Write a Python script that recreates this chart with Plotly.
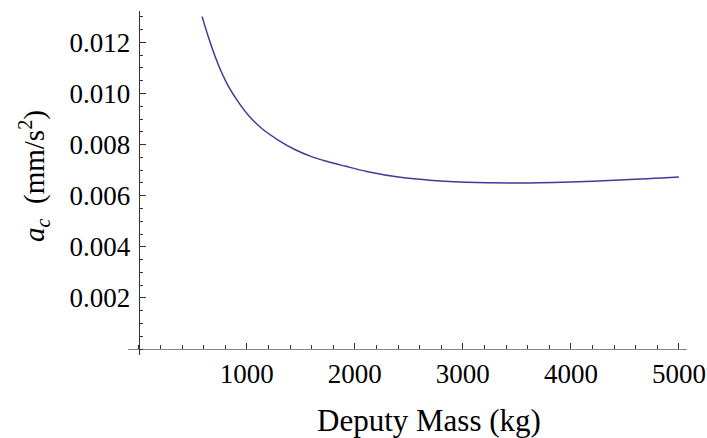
import plotly.graph_objects as go

# Data
mass_kg = [586, 642, 704, 766, 827, 919, 1012, 1136, 1290, 1444, 1599, 1753,
           1907, 2110, 2420, 2720, 3030, 3500, 4000, 4500, 5000]
accel = [0.01301, 0.01224, 0.01148, 0.01083, 0.01030, 0.00968, 0.00916,
         0.00864, 0.00818, 0.00781, 0.00753, 0.00733, 0.00716, 0.00695,
         0.00672, 0.00660, 0.00653, 0.00650, 0.00654, 0.00662, 0.00673]

x_ticks = [1000, 2000, 3000, 4000, 5000]
y_ticks = [0.002, 0.004, 0.006, 0.008, 0.010, 0.012]
y_ticktext = ["0.002", "0.004", "0.006", "0.008", "0.010", "0.012"]

x_title = "Deputy Mass (kg)"
y_title = "<i>a</i><sub><i>c</i></sub>\u00a0 (mm/s<sup>2</sup>)"

x_range = [-100, 5075]
y_range = [-0.000235, 0.01323]

# axis crossing positions (fraction of plot area) so axes meet at (0, 0)
pos_x_axis = (0 - y_range[0]) / (y_range[1] - y_range[0])
pos_y_axis = (0 - x_range[0]) / (x_range[1] - x_range[0])

W, H = 707, 438
ML, MR, MT, MB = 128, 20, 11, 83
PW, PH = W - ML - MR, H - MT - MB

font_family = "Liberation Serif, Times New Roman, serif"

fig = go.Figure()
fig.add_trace(go.Scatter(
    x=mass_kg, y=accel, mode="lines",
    line=dict(color="#3d3d99", width=1.5, shape="spline", smoothing=1.0),
    showlegend=False, hoverinfo="x+y",
))

fig.update_layout(
    width=W, height=H,
    margin=dict(l=ML, r=MR, t=MT, b=MB),
    paper_bgcolor="white", plot_bgcolor="white",
    font=dict(family=font_family, color="black"),
    xaxis=dict(
        range=x_range, anchor="free", position=pos_x_axis, automargin=False,
        showline=True, linecolor="#888888", linewidth=1.2,
        showgrid=False, zeroline=False,
        ticks="inside", ticklen=6, tickwidth=1, tickcolor="#333333",
        tickmode="array", tickvals=x_ticks,
        minor=dict(dtick=200, tick0=0, ticks="inside", ticklen=3.5,
                   tickwidth=1, tickcolor="#333333", showgrid=False),
        tickfont=dict(size=27, family=font_family, color="black"),
        ticklabelstandoff=1,
    ),
    yaxis=dict(
        range=y_range, anchor="free", position=pos_y_axis, automargin=False,
        showline=True, linecolor="#333333", linewidth=1.2,
        showgrid=False, zeroline=False,
        ticks="inside", ticklen=6, tickwidth=1, tickcolor="#333333",
        tickmode="array", tickvals=y_ticks, ticktext=y_ticktext,
        minor=dict(dtick=0.0005, tick0=0, ticks="inside", ticklen=3.5,
                   tickwidth=1, tickcolor="#333333", showgrid=False),
        tickfont=dict(size=27, family=font_family, color="black"),
        ticklabelstandoff=3,
    ),
    annotations=[
        dict(text=x_title, xref="paper", yref="paper",
             x=(429 - ML) / PW, y=(MT + PH - 420) / PH,
             xanchor="center", yanchor="middle", showarrow=False,
             font=dict(size=31, family=font_family, color="black")),
        dict(text=y_title, xref="paper", yref="paper",
             x=(34 - ML) / PW, y=(MT + PH - 176) / PH,
             xanchor="center", yanchor="middle", showarrow=False, textangle=-90,
             font=dict(size=29, family=font_family, color="black")),
    ],
)

# remove the browser's default 8px body margin so the figure sits at (0, 0)
fig.write_html("out.html", config={"displayModeBar": False},
               post_script="document.body.style.margin='0';")
